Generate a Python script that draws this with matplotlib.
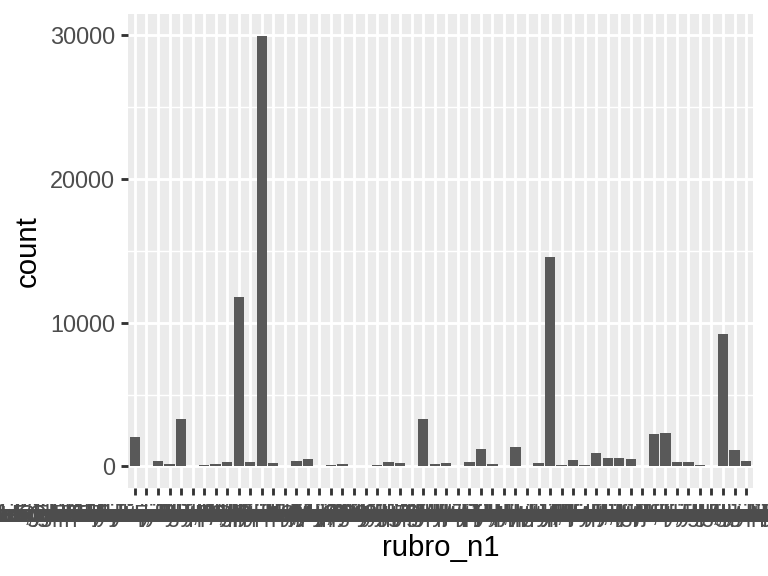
import matplotlib.pyplot as plt
import numpy as np

plt.rcParams['font.family'] = ['Liberation Sans', 'DejaVu Sans']

# rubros (orden alfabetico, como en el factor original)
rubros = [
    "Actividades administrativas y servicios de apoyo a empresas",
    "Actividades artisticas, de entretenimiento y recreativas en general",
    "Actividades de organizaciones y organos extraterritoriales",
    "Actividades de los hogares como empleadores de personal domestico",
    "Actividades financieras y de seguros, excepto planes de pension",
    "Actividades inmobiliarias y de alquiler de bienes propios",
    "Actividades profesionales, cientificas y tecnicas n.c.p.",
    "Administracion publica y defensa; planes de seguridad social",
    "Agricultura, ganaderia, caza, silvicultura y servicios conexos",
    "Alimentos y bebidas - elaboracion y procesamiento industrial",
    "Comercio al por mayor y en comision, excepto automotores",
    "Comercio al por menor excepto vehiculos automotores y motos",
    "Comercio de vehiculos automotores, motocicletas y repuestos",
    "Confeccion de prendas de vestir; terminacion y teñido de pieles",
    "Construccion de edificios, obras de ingenieria civil y especializadas",
    "Correo y servicios de mensajeria y actividades postales",
    "Curtido y terminacion de cueros; fabricacion de calzado",
    "Edicion e impresion; reproduccion de grabaciones y soportes",
    "Elaboracion de productos de tabaco y derivados del tabaco",
    "Enseñanza publica y privada en todos sus niveles y modalidades",
    "Explotacion de minas y canteras de minerales metaliferos",
    "Extraccion de petroleo crudo y gas natural y servicios conexos",
    "Fabricacion de maquinaria y equipo n.c.p. para uso general",
    "Fabricacion de muebles y colchones e industrias manufactureras",
    "Fabricacion de productos de caucho y plastico en formas basicas",
    "Fabricacion de productos elaborados de metal, excepto maquinaria",
    "Fabricacion de sustancias y productos quimicos de uso industrial",
    "Fabricacion de vehiculos automotores, remolques y semirremolques",
    "Fabricacion de papel y productos de papel y carton corrugado",
    "Fabricacion de productos textiles, hilados y tejidos de punto",
    "Hoteles y restaurantes; servicios de alojamiento y de comidas",
    "Industria manufacturera n.c.p. y reciclamiento de desperdicios",
    "Informacion y comunicaciones; servicios de edicion y difusion",
    "Intermediacion financiera y otros servicios financieros n.c.p.",
    "Metales comunes - fabricacion de productos primarios de hierro",
    "Pesca y servicios conexos; explotacion de criaderos de peces",
    "Productos minerales no metalicos - fabricacion de vidrio y ceramica",
    "Reparacion de efectos personales y enseres domesticos n.c.p.",
    "Salud humana y servicios sociales; servicios de atencion medica",
    "Servicio de transporte automotor de cargas por carretera",
    "Servicio de transporte automotor de pasajeros urbano y de larga distancia",
    "Servicios anexos al transporte; servicios de agencias de viaje",
    "Servicios de asociaciones, sindicatos y organizaciones religiosas",
    "Servicios de esparcimiento, culturales y deportivos n.c.p.",
    "Servicios de informatica y actividades conexas de consultoria",
    "Servicios de limpieza de edificios y otros servicios a empresas",
    "Servicios de seguridad e investigacion y vigilancia privada",
    "Servicios empresariales n.c.p.; servicios de publicidad y estudios",
    "Servicios juridicos y de contabilidad, teneduria de libros y auditoria",
    "Servicios personales n.c.p.; lavado, peluqueria y pompas funebres",
    "Suministro de electricidad, gas, vapor y aire acondicionado",
    "Telecomunicaciones; servicios de telefonia fija, movil e internet",
    "Transporte y almacenamiento; depositos y servicios de logistica",
    "Venta al por menor de combustible para vehiculos automotores",
]

conteo = [2080, 5, 400, 190, 3320, 50, 120, 190, 320, 11760,
          320, 29950, 255, 50, 400, 530, 50, 120, 190, 8,
          5, 120, 320, 255, 50, 3320, 190, 255, 50, 320,
          1230, 190, 50, 1370, 6, 255, 14540, 120, 460, 120,
          950, 600, 600, 530, 50, 2270, 2340, 320, 320, 120,
          7, 9190, 1160, 400]

lw_major = 1.067
fig = plt.figure(figsize=(4, 3), dpi=192)
ax = fig.add_axes([128 / 768, 1 - 488 / 576, (753 - 128) / 768, (488 - 14) / 576])
ax.set_facecolor('#EBEBEB')

x = np.arange(len(rubros))
ax.bar(x, conteo, width=0.9, color='#595959', zorder=3)

ax.set_xlim(-0.6, len(rubros) - 1 + 0.6)
ymax = max(conteo)
ax.set_ylim(-0.05 * ymax, 1.05 * ymax)

ax.set_xticks(x)
ax.set_xticklabels(rubros)
ax.set_yticks([0, 10000, 20000, 30000])
ax.set_yticks([5000, 15000, 25000], minor=True)

ax.grid(which='major', color='white', linewidth=lw_major, zorder=0)
ax.grid(which='minor', axis='y', color='white', linewidth=lw_major / 2, zorder=0)
ax.set_axisbelow(True)
for s in ax.spines.values():
    s.set_visible(False)

ax.tick_params(axis='both', which='major', length=2.75, width=lw_major,
               color='#333333', labelsize=8.8, labelcolor='#4D4D4D', pad=2.2)
ax.tick_params(axis='x', which='major', pad=3.2)
ax.tick_params(axis='both', which='minor', length=0)

ax.set_xlabel('rubro_n1', fontsize=11, color='black', labelpad=2.5)
ax.set_ylabel('count', fontsize=11, color='black', labelpad=3)

fig.savefig('out.png', dpi=192)
